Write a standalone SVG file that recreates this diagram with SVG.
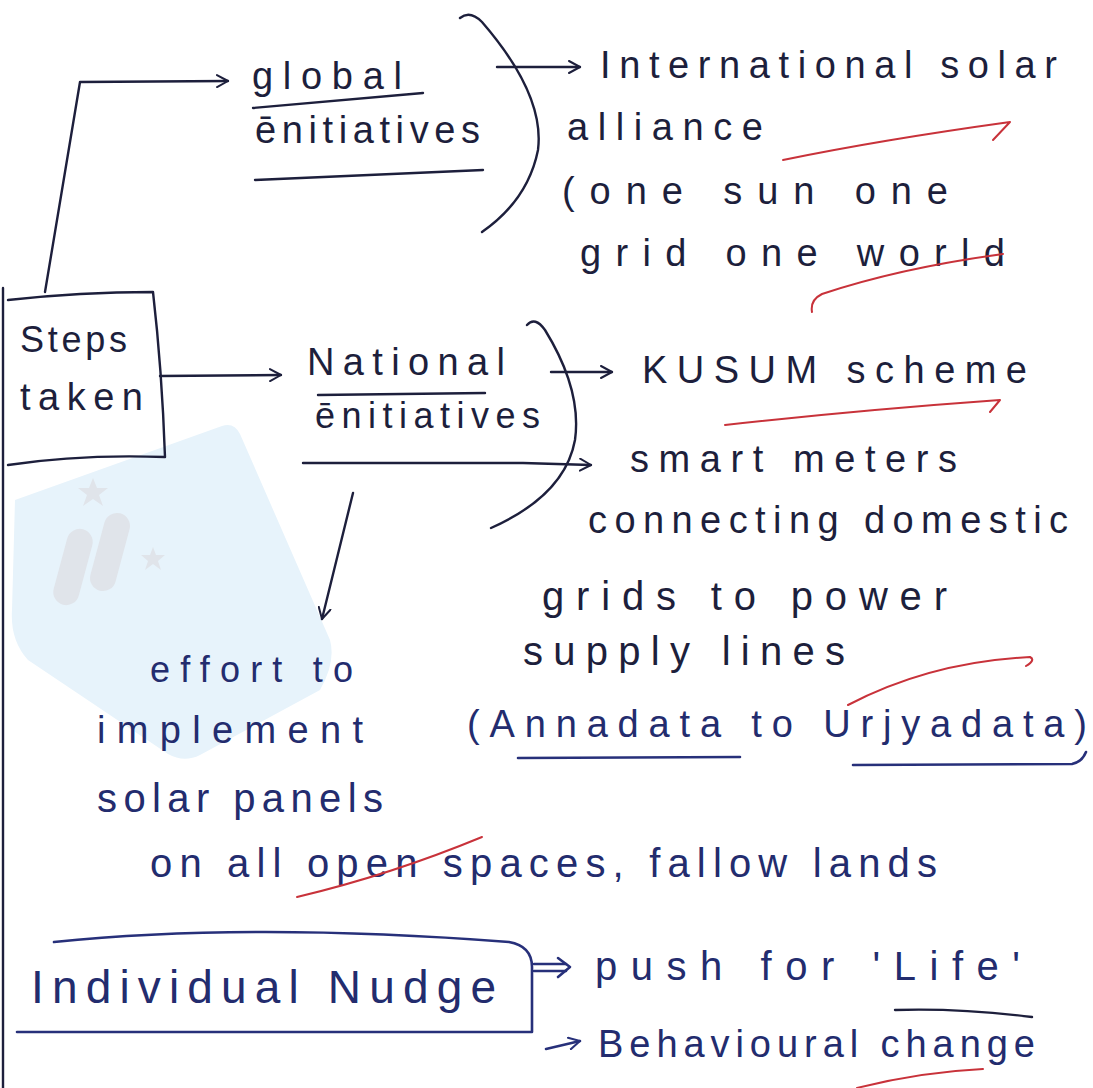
<svg xmlns="http://www.w3.org/2000/svg" width="1093" height="1088" viewBox="0 0 1093 1088">
  <style>
    .t { font-family: "Liberation Sans", "Noto Sans", sans-serif; fill: #1d1f3c; }
    .b { fill: #232c6e; }
    .ln { fill: none; stroke: #1d1f3c; stroke-width: 2.4; stroke-linecap: round; stroke-linejoin: round; }
    .bl { fill: none; stroke: #27307a; stroke-width: 2.6; stroke-linecap: round; stroke-linejoin: round; }
    .red { fill: none; stroke: #c8323a; stroke-width: 2; stroke-linecap: round; stroke-linejoin: round; }
    .wm { fill: #e7f3fb; }
    .wg { fill: #e0e4ea; }
  </style>
  <defs>
    <marker id="ah" viewBox="0 0 14 14" refX="12" refY="7" markerWidth="14" markerHeight="14" markerUnits="userSpaceOnUse" orient="auto">
      <path d="M1,1 L12,7 L1,13" fill="none" stroke="#1d1f3c" stroke-width="2" stroke-linecap="round" stroke-linejoin="round"/>
    </marker>
    <marker id="ahb" viewBox="0 0 14 14" refX="12" refY="7" markerWidth="14" markerHeight="14" markerUnits="userSpaceOnUse" orient="auto">
      <path d="M1,1 L12,7 L1,13" fill="none" stroke="#27307a" stroke-width="2" stroke-linecap="round" stroke-linejoin="round"/>
    </marker>
  </defs>
  <rect width="1093" height="1088" fill="#ffffff"/>

  <!-- faint watermark -->
  <g id="watermark">
    <path class="wm" d="M 15 500 L 222 426 Q 234 422 240 434 L 330 640 Q 336 662 320 690 L 200 755 Q 184 763 168 754 L 28 660 Q 10 640 12 610 Z"/>
    <rect class="wg" x="60" y="528" width="26" height="78" rx="13" transform="rotate(15 73 567)"/>
    <rect class="wg" x="97" y="512" width="26" height="80" rx="13" transform="rotate(15 110 552)"/>
    <path class="wg" d="M 93 478 L 97 488 L 108 488 L 99 495 L 103 506 L 93 499 L 83 506 L 87 495 L 78 488 L 89 488 Z"/>
    <path class="wg" d="M 153 547 L 156 555 L 165 555 L 158 561 L 161 570 L 153 564 L 145 570 L 148 561 L 141 555 L 150 555 Z"/>
  </g>

  <!-- page edge -->
  <line class="ln" x1="3" y1="288" x2="3" y2="1088" stroke-width="2"/>

  <!-- connectors -->
  <g id="connectors">
    <path class="ln" d="M 45 292 L 80 82 L 228 81" marker-end="url(#ah)"/>
    <path class="ln" d="M 160 376 L 281 375" marker-end="url(#ah)"/>
    <path class="ln" d="M 497 67 L 580 67" marker-end="url(#ah)"/>
    <path class="ln" d="M 551 372 L 612 372" marker-end="url(#ah)"/>
    <path class="ln" d="M 303 463 L 523 463 L 591 465" marker-end="url(#ah)"/>
    <path class="ln" d="M 353 493 L 322 619" marker-end="url(#ah)"/>
    <g id="nudge-arrows">
      <path class="bl" d="M 534 964 L 566 964 M 534 971 L 566 971"/>
      <path class="bl" d="M 558 958 L 570 967 L 558 977"/>
      <path class="bl" d="M 546 1049 L 580 1041" marker-end="url(#ahb)"/>
    </g>
  </g>

  <!-- Steps taken -->
  <g id="steps-taken">
    <path class="ln" d="M 8 300 Q 80 292 153 292 Q 162 370 165 457 Q 80 454 8 465"/>
    <text class="t" x="20" y="352" font-size="36" textLength="107">Steps</text>
    <text class="t" x="20" y="410" font-size="38" textLength="123">taken</text>
  </g>

  <!-- global initiatives -->
  <g id="global-initiatives">
    <text class="t" x="252" y="89" font-size="38" textLength="150">global</text>
    <path class="ln" d="M 253 108 L 423 93"/>
    <text class="t" x="255" y="143" font-size="38" textLength="225">ēnitiatives</text>
    <path class="ln" d="M 255 180 L 483 170"/>
    <path class="ln" d="M 460 18 Q 470 10 482 22 Q 545 95 538 150 Q 528 200 482 232"/>
  </g>

  <g id="global-list">
    <text class="t" x="600" y="78" font-size="38" textLength="457">International solar</text>
    <text class="t" x="567" y="140" font-size="38" textLength="196">alliance</text>
    <path class="red" d="M 783 160 Q 880 140 1010 122 L 993 140"/>
    <text class="t" x="562" y="204" font-size="38" textLength="386">(one sun one</text>
    <text class="t" x="580" y="266" font-size="38" textLength="425">grid one world</text>
    <path class="red" d="M 1003 254 Q 900 268 822 294 Q 810 300 812 312"/>
  </g>

  <!-- national initiatives -->
  <g id="national-initiatives">
    <text class="t" x="307" y="375" font-size="38" textLength="198">National</text>
    <path class="ln" d="M 318 395 L 485 393"/>
    <text class="t" x="315" y="428" font-size="36" textLength="225">ēnitiatives</text>
    <path class="ln" d="M 527 325 Q 535 316 545 330 Q 582 390 575 440 Q 565 495 491 528"/>
  </g>

  <g id="national-list">
    <text class="t" x="642" y="383" font-size="38" textLength="385">KUSUM scheme</text>
    <path class="red" d="M 725 425 Q 860 410 1000 400 L 990 412"/>
    <text class="t" x="630" y="472" font-size="38" textLength="327">smart meters</text>
    <text class="t" x="588" y="533" font-size="38" textLength="480">connecting domestic</text>
    <text class="t" x="542" y="610" font-size="40" textLength="405">grids to power</text>
    <text class="t" x="523" y="665" font-size="40" textLength="322">supply lines</text>
    <path class="red" d="M 848 705 Q 930 662 1030 657 Q 1036 660 1026 666"/>
    <text class="t b" x="467" y="737" font-size="38" textLength="620">(Annadata to Urjyadata)</text>
    <path class="bl" d="M 518 758 L 740 757"/>
    <path class="bl" d="M 853 765 L 1072 764 Q 1082 762 1086 752"/>
  </g>

  <!-- effort -->
  <g id="effort">
    <text class="t b" x="150" y="682" font-size="36" textLength="203">effort to</text>
    <text class="t b" x="97" y="743" font-size="38" textLength="266">implement</text>
    <text class="t b" x="97" y="812" font-size="40" textLength="286">solar panels</text>
    <text class="t b" x="150" y="877" font-size="40" textLength="787">on all open spaces, fallow lands</text>
    <path class="red" d="M 297 897 Q 390 875 482 837"/>
  </g>

  <!-- individual nudge -->
  <g id="individual-nudge">
    <path class="bl" d="M 54 942 Q 250 922 509 942 Q 532 946 532 967 L 532 1032 L 17 1032"/>
    <text class="t b" x="31" y="1003" font-size="46" textLength="465">Individual Nudge</text>
  </g>

  <g id="nudge-list">
    <text class="t b" x="595" y="980" font-size="40" textLength="425">push for 'Life'</text>
    <path class="ln" d="M 895 1010 Q 960 1008 1032 1017"/>
    <text class="t b" x="598" y="1057" font-size="38" textLength="437">Behavioural change</text>
    <path class="red" d="M 857 1088 Q 920 1072 983 1069"/>
  </g>
</svg>
